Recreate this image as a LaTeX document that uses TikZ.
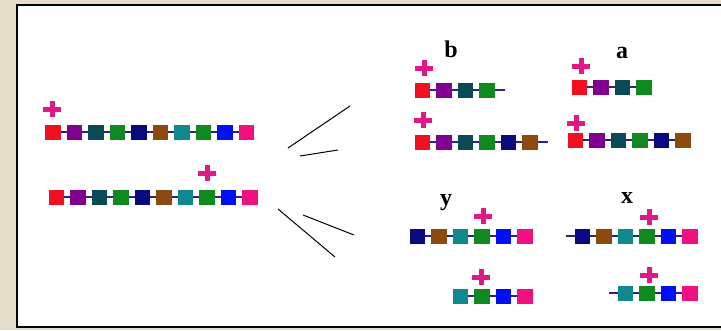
\documentclass[tikz,border=0pt]{standalone}
\usepackage{fontspec}
\setmainfont{Liberation Serif}
\definecolor{cRed}{HTML}{F01020}
\definecolor{cPurple}{HTML}{800090}
\definecolor{cDkTeal}{HTML}{0A4A55}
\definecolor{cGreen}{HTML}{108A20}
\definecolor{cNavy}{HTML}{0A0A80}
\definecolor{cBrown}{HTML}{8B4A10}
\definecolor{cTeal}{HTML}{108890}
\definecolor{cBlue}{HTML}{0010F0}
\definecolor{cPink}{HTML}{F01080}
\definecolor{plusc}{HTML}{E01888}
\definecolor{linkc}{HTML}{30208A}
\definecolor{beige}{HTML}{E6DDCB}
\tikzset{
  sq/.style={minimum width=15.5pt, minimum height=15pt, inner sep=0pt, outer sep=0pt},
  link/.style={draw=linkc, line width=2pt},
  plusmark/.style={minimum width=18pt, minimum height=16pt, inner sep=0pt,
    path picture={
      \draw[plusc, line width=5pt] (path picture bounding box.north) -- (path picture bounding box.south);
      \draw[plusc, line width=5pt] (path picture bounding box.west) -- (path picture bounding box.east);
    }},
  lbl/.style={font=\bfseries\fontsize{24}{24}\selectfont, anchor=base, inner sep=0pt},
  stroke/.style={draw=black, line width=1pt}
}
\newcommand{\chainrow}[4]{%
  \foreach \c [count=\i, remember=\i as \prev (initially 0)] in {#4} {
    \node[sq, fill=\c] (#1-\i) at ({#2+7.5+(\i-1)*21.5}, #3) {};
    \ifnum\i>1 \draw[link] (#1-\prev.east) -- (#1-\i.west); \fi
  }%
}
\begin{document}
\begin{tikzpicture}[x=1pt, y=-1pt]
\useasboundingbox (0,0) rectangle (721,330);
\clip (0,0) rectangle (721,330);
\fill[beige] (0,0) rectangle (721,330);
\draw[fill=white, line width=2.5pt] (17,5) rectangle (740,327);

% left chains
\chainrow{L1}{45.5}{132}{cRed,cPurple,cDkTeal,cGreen,cNavy,cBrown,cTeal,cGreen,cBlue,cPink}
\chainrow{L2}{49}{197}{cRed,cPurple,cDkTeal,cGreen,cNavy,cBrown,cTeal,cGreen,cBlue,cPink}
\node[plusmark] (pL1) at (52,109) {};
\node[plusmark] (pL2) at (207,173) {};

% strokes
\coordinate (s1a) at (288,148); \coordinate (s1b) at (350,106);
\coordinate (s2a) at (300,156); \coordinate (s2b) at (338,150);
\coordinate (s3a) at (278,209); \coordinate (s3b) at (335,257);
\coordinate (s4a) at (303,215); \coordinate (s4b) at (354,235);
\draw[stroke] (s1a) -- (s1b);
\draw[stroke] (s2a) -- (s2b);
\draw[stroke] (s3a) -- (s3b);
\draw[stroke] (s4a) -- (s4b);

% labels
\node[lbl] (lb) at (451,57) {b};
\node[lbl] (la) at (622,58) {a};
\node[lbl] (ly) at (446,205) {y};
\node[lbl] (lx) at (627,203) {x};

% b group
\chainrow{b1}{415}{90}{cRed,cPurple,cDkTeal,cGreen}
\coordinate (b1t) at (505,90);
\draw[link] (b1-4.east) -- (b1t);
\node[plusmark] (pb1) at (424,68) {};
\chainrow{b2}{415}{142}{cRed,cPurple,cDkTeal,cGreen,cNavy,cBrown}
\coordinate (b2t) at (548,142);
\draw[link] (b2-6.east) -- (b2t);
\node[plusmark] (pb2) at (423,120) {};

% a group
\chainrow{a1}{572}{87}{cRed,cPurple,cDkTeal,cGreen}
\node[plusmark] (pa1) at (581,66) {};
\chainrow{a2}{568}{140}{cRed,cPurple,cDkTeal,cGreen,cNavy,cBrown}
\node[plusmark] (pa2) at (576,123) {};

% y group
\chainrow{y1}{410}{236}{cNavy,cBrown,cTeal,cGreen,cBlue,cPink}
\node[plusmark] (py1) at (483,216) {};
\chainrow{y2}{453}{296}{cTeal,cGreen,cBlue,cPink}
\node[plusmark] (py2) at (481,277) {};

% x group
\chainrow{x1}{575}{236}{cNavy,cBrown,cTeal,cGreen,cBlue,cPink}
\coordinate (x1t) at (566,236);
\draw[link] (x1t) -- (x1-1.west);
\node[plusmark] (px1) at (649,217) {};
\chainrow{x2}{618}{293}{cTeal,cGreen,cBlue,cPink}
\coordinate (x2t) at (609,293);
\draw[link] (x2t) -- (x2-1.west);
\node[plusmark] (px2) at (649,275) {};
\end{tikzpicture}
\end{document}
